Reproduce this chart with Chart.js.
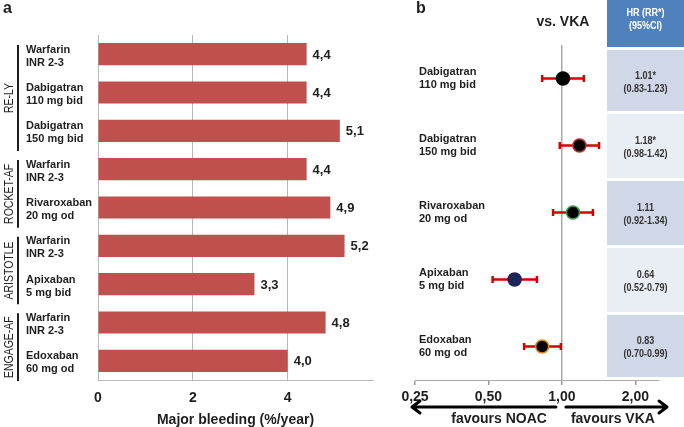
<!DOCTYPE html>
<html>
<head>
<meta charset="utf-8">
<script src="https://cdn.jsdelivr.net/npm/chart.js@4"></script>
<style>
  html, body { margin: 0; padding: 0; background: #fff; }
  #wrap { position: relative; width: 684px; height: 427px; overflow: hidden; }
  #bleedChart { position: absolute; left: 0; top: 0; }
  #hrChart { position: absolute; left: 380px; top: 0; }
</style>
</head>
<body>
<div id="wrap">
  <canvas id="bleedChart" width="380" height="427"></canvas>
  <canvas id="hrChart" width="304" height="427"></canvas>
</div>
<script>
// panel a: major bleeding rates per arm
const bleedLabels = [
  ['Warfarin', 'INR 2-3'], ['Dabigatran', '110 mg bid'], ['Dabigatran', '150 mg bid'],
  ['Warfarin', 'INR 2-3'], ['Rivaroxaban', '20 mg od'],
  ['Warfarin', 'INR 2-3'], ['Apixaban', '5 mg bid'],
  ['Warfarin', 'INR 2-3'], ['Edoxaban', '60 mg od']
];
const bleedRates = [4.4, 4.4, 5.1, 4.4, 4.9, 5.2, 3.3, 4.8, 4.0];
const rateTicks = [0, 2, 4];
const trialNames = ['RE-LY', 'ROCKET-AF', 'ARISTOTLE', 'ENGAGE-AF'];
const trialFirst = [0, 3, 5, 7];
const trialLast = [2, 4, 6, 8];

// panel b: hazard ratios vs VKA
const drugLabels = [
  ['Dabigatran', '110 mg bid'], ['Dabigatran', '150 mg bid'], ['Rivaroxaban', '20 mg od'],
  ['Apixaban', '5 mg bid'], ['Edoxaban', '60 mg od']
];
const hrValues = [1.01, 1.18, 1.11, 0.64, 0.83];
const ciLow = [0.83, 0.98, 0.92, 0.52, 0.70];
const ciHigh = [1.23, 1.42, 1.34, 0.79, 0.99];
const isRR = [true, true, false, false, false];
const hrTicks = [0.25, 0.5, 1, 2];

const FONT = '"Liberation Sans", Arial, sans-serif';
const INK = '#1e1e1e';
Chart.defaults.font.family = FONT;

const comma = (v, d) => Number(v).toFixed(d).replace('.', ',');

// text squeezed horizontally (the original uses a narrow face)
function narrowText(ctx, text, x, y, squeeze) {
  ctx.save();
  ctx.translate(x, y);
  ctx.scale(squeeze, 1);
  ctx.fillText(text, 0, 0);
  ctx.restore();
}

// value labels, trial brackets and panel letter
const panelA = {
  id: 'panelA',
  afterDatasetsDraw(chart) {
    const ctx = chart.ctx, y = chart.scales.y;
    const meta = chart.getDatasetMeta(0);
    ctx.save();
    ctx.fillStyle = INK;
    ctx.font = 'bold 13px ' + FONT;
    ctx.textAlign = 'left'; ctx.textBaseline = 'middle';
    meta.data.forEach((bar, i) => ctx.fillText(comma(bleedRates[i], 1), bar.x + 6, bar.y + 1));

    const step = y.getPixelForValue(1) - y.getPixelForValue(0);
    trialNames.forEach((name, k) => {
      const top = y.getPixelForValue(trialFirst[k]) - step / 2 + 10;
      const bot = y.getPixelForValue(trialLast[k]) + step / 2 + 1;
      ctx.strokeStyle = INK; ctx.lineWidth = 2;
      ctx.beginPath(); ctx.moveTo(18, top); ctx.lineTo(18, bot); ctx.stroke();
      ctx.save();
      ctx.translate(13, (top + bot) / 2);
      ctx.rotate(-Math.PI / 2);
      ctx.font = '12.5px ' + FONT;
      ctx.textAlign = 'center'; ctx.textBaseline = 'alphabetic';
      narrowText(ctx, name, 0, 0, 0.84);
      ctx.restore();
    });

    ctx.font = 'bold 16px ' + FONT;
    ctx.textAlign = 'left'; ctx.textBaseline = 'alphabetic';
    ctx.fillText('a', 3, 13);
    ctx.restore();
  }
};

// table, arrows, header texts
const panelB = {
  id: 'panelB',
  afterDraw(chart) {
    const ctx = chart.ctx, xs = chart.scales.x, ys = chart.scales.y, area = chart.chartArea;
    const x1 = xs.getPixelForValue(1);
    ctx.save();
    ctx.fillStyle = INK;
    ctx.textBaseline = 'alphabetic';
    ctx.font = 'bold 16px ' + FONT; ctx.textAlign = 'left';
    ctx.fillText('b', 36, 13);
    ctx.font = 'bold 14px ' + FONT; ctx.textAlign = 'center';
    ctx.fillText('vs. VKA', x1 + 1, 26);

    // table
    const tw = 77, tx = chart.width - tw, cx = tx + tw / 2;
    ctx.fillStyle = '#4F81BD';
    ctx.fillRect(tx, 0, tw, 47);
    ctx.fillStyle = '#fff';
    ctx.font = 'bold 11px ' + FONT;
    ctx.textBaseline = 'middle';
    narrowText(ctx, 'HR (RR*)', cx, 13, 0.82);
    narrowText(ctx, '(95%CI)', cx, 26, 0.82);
    hrValues.forEach((v, i) => {
      const top = i === 0 ? 50 : ys.getPixelForValue(i - 0.5) + 2;
      const bot = i === hrValues.length - 1 ? 377 : ys.getPixelForValue(i + 0.5) - 1;
      ctx.fillStyle = i % 2 === 0 ? '#D0D8E8' : '#E9EDF4';
      ctx.fillRect(tx, top, tw, bot - top);
      const mid = (top + bot) / 2;
      ctx.fillStyle = '#333';
      ctx.font = 'bold 11px ' + FONT;
      narrowText(ctx, v.toFixed(2) + (isRR[i] ? '*' : ''), cx, mid - 5, 0.82);
      narrowText(ctx, '(' + ciLow[i].toFixed(2) + '-' + ciHigh[i].toFixed(2) + ')', cx, mid + 8, 0.82);
    });

    // arrows
    const ay = 407;
    ctx.strokeStyle = '#000'; ctx.lineWidth = 3; ctx.lineCap = 'round'; ctx.lineJoin = 'round';
    const lx0 = area.left - 3, lx1 = x1 - 6, rx0 = x1 + 4, rx1 = area.right + 8;
    ctx.beginPath();
    ctx.moveTo(lx1, ay); ctx.lineTo(lx0, ay);
    ctx.moveTo(lx0 + 8, ay - 6); ctx.lineTo(lx0, ay); ctx.lineTo(lx0 + 8, ay + 6);
    ctx.moveTo(rx0, ay); ctx.lineTo(rx1, ay);
    ctx.moveTo(rx1 - 8, ay - 6); ctx.lineTo(rx1, ay); ctx.lineTo(rx1 - 8, ay + 6);
    ctx.stroke();

    ctx.fillStyle = INK;
    ctx.font = 'bold 14px ' + FONT;
    ctx.textBaseline = 'alphabetic';
    ctx.textAlign = 'right';
    ctx.fillText('favours NOAC', x1 - 15, 423);
    ctx.textAlign = 'left';
    ctx.fillText('favours VKA', x1 + 9, 423);
    ctx.restore();
  }
};

new Chart(document.getElementById('bleedChart'), {
  type: 'bar',
  data: {
    labels: bleedLabels,
    datasets: [{ data: bleedRates, backgroundColor: '#C0504D', barPercentage: 0.58, categoryPercentage: 1 }]
  },
  options: {
    responsive: false, animation: false, indexAxis: 'y',
    layout: { padding: { left: 26, right: 7, top: 35, bottom: 0 } },
    plugins: { legend: { display: false }, tooltip: { enabled: false } },
    scales: {
      x: {
        min: 0, max: 5.8,
        afterBuildTicks: s => { s.ticks = rateTicks.map(v => ({ value: v })); },
        afterFit: s => { s.height = 47; },
        grid: { color: '#b8b8b8', drawTicks: false },
        border: { color: '#b8b8b8' },
        ticks: { padding: 10, color: INK, font: { size: 14, weight: 'bold' } },
        title: {
          display: true, text: 'Major bleeding (%/year)', color: INK,
          font: { size: 14, weight: 'bold', lineHeight: 1 }, padding: { top: 0, bottom: 0 }
        }
      },
      y: {
        afterFit: s => { s.width = 72; },
        grid: { display: false },
        border: { color: '#b8b8b8' },
        ticks: { crossAlign: 'far', labelOffset: 2, color: INK, font: { size: 11, weight: 'bold', lineHeight: 1.2 } }
      }
    }
  },
  plugins: [panelA]
});

new Chart(document.getElementById('hrChart'), {
  type: 'scatter',
  data: {
    datasets: [
      {
        data: hrValues.map((v, i) => ({ x: v, y: i })),
        pointRadius: 6.5,
        pointBackgroundColor: ['#000', '#000', '#000', '#1b2657', '#000'],
        pointBorderColor: ['#000', '#b0302a', '#3f9a52', '#1b2657', '#e08a1e'],
        pointBorderWidth: 1.5,
        order: 0
      },
      ...hrValues.map((v, i) => ({
        data: [{ x: ciLow[i], y: i }, { x: ciHigh[i], y: i }],
        showLine: true,
        borderColor: '#d40000', borderWidth: 2.5,
        pointStyle: 'line', rotation: 90, pointRadius: 3.5,
        pointBorderColor: '#d40000', pointBorderWidth: 2.5,
        order: 1
      }))
    ]
  },
  options: {
    responsive: false, animation: false,
    layout: { padding: { left: 35, right: 25, top: 45, bottom: 0 } },
    plugins: { legend: { display: false }, tooltip: { enabled: false } },
    scales: {
      x: {
        type: 'logarithmic', min: 0.25, max: 2.5,
        afterBuildTicks: s => { s.ticks = hrTicks.map(v => ({ value: v })); },
        afterFit: s => { s.height = 47; },
        grid: {
          color: c => (c.tick && c.tick.value === 1 ? '#a8a8a8' : 'rgba(0,0,0,0)'),
          lineWidth: 1.5, tickColor: '#999', tickLength: 5
        },
        border: { color: '#aaa' },
        ticks: {
          autoSkip: false, maxRotation: 0, padding: 4, color: INK,
          font: { size: 14, weight: 'bold' },
          callback: v => comma(v, 2)
        }
      },
      y: {
        type: 'linear', reverse: true, min: -0.5, max: 4.5,
        afterBuildTicks: s => { s.ticks = drugLabels.map((l, i) => ({ value: i })); },
        afterFit: s => { s.width = 0; },
        grid: { display: false },
        border: { display: false },
        ticks: {
          mirror: true, padding: 4, color: INK,
          font: { size: 11, weight: 'bold', lineHeight: 1.2 },
          callback: v => drugLabels[v]
        }
      }
    }
  },
  plugins: [panelB]
});
</script>
</body>
</html>
